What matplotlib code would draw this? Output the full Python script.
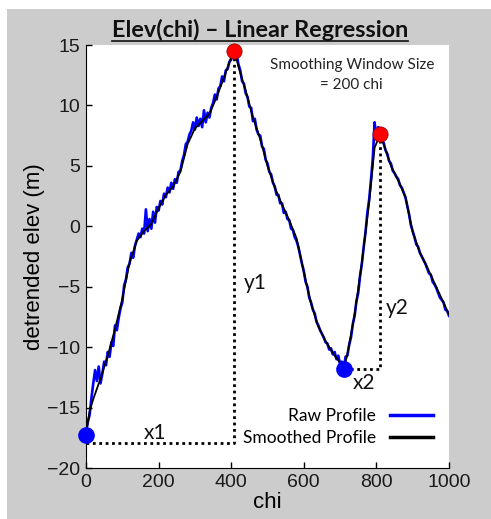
import matplotlib
matplotlib.use("Agg")
import matplotlib.pyplot as plt
from matplotlib.patches import Rectangle
from matplotlib.lines import Line2D
import numpy as np

# raw profile, read every 5 chi
raw_chi = np.arange(0, 1001, 5)
raw_elev = [
    -17.0, -16.2, -15.6, -14.2, -13.0, -11.9, -12.8, -11.6, -13.0, -12.2,
    -11.2, -11.5, -10.4, -10.8, -9.6, -9.9, -8.2, -8.6, -7.6, -6.8,
    -6.3, -4.9, -4.4, -3.4, -3.1, -2.2, -2.6, -1.6, -1.1, -0.6,
    -0.9, -0.2, -0.6, 1.4, -0.4, 0.6, -0.2, 1.2, 0.3, 1.6,
    1.3, 2.1, 1.8, 2.7, 2.4, 3.2, 2.8, 3.6, 3.1, 3.9,
    3.6, 4.5, 4.6, 5.4, 5.9, 6.8, 7.0, 7.6, 7.9, 8.6,
    8.0, 9.0, 8.3, 8.9, 8.2, 9.6, 8.6, 9.4, 9.0, 9.8,
    10.2, 10.9, 10.5, 11.4, 11.6, 12.4, 12.0, 12.9, 13.0, 13.6,
    13.8, 14.6, 14.3, 14.2, 13.4, 12.9, 12.0, 11.8, 11.0, 10.7,
    9.9, 9.8, 8.7, 8.9, 8.0, 7.6, 7.5, 6.6, 6.4, 5.5,
    5.2, 4.5, 4.3, 3.6, 3.3, 2.6, 2.6, 1.9, 1.9, 1.1,
    1.2, 0.6, 0.5, -0.2, -0.3, -0.9, -1.2, -1.7, -2.4, -3.1,
    -3.7, -4.6, -5.0, -5.9, -6.3, -6.9, -7.2, -7.9, -8.2, -8.6,
    -8.9, -9.2, -9.6, -9.7, -10.2, -10.1, -10.6, -10.4, -11.0, -10.7,
    -11.4, -11.2, -11.9, -10.8, -10.7, -9.8, -9.2, -8.1, -7.4, -6.2,
    -5.5, -4.1, -3.1, -1.7, -0.5, 1.1, 2.2, 3.8, 5.6, 8.6,
    7.4, 8.2, 7.5, 7.2, 6.9, 6.3, 6.0, 5.4, 5.2, 4.6,
    4.4, 4.1, 3.9, 3.4, 3.2, 2.8, 2.4, 1.7, 1.0, 0.1,
    -0.4, -0.9, -1.5, -1.7, -2.2, -2.5, -2.8, -3.1, -3.5, -3.9,
    -4.0, -4.6, -4.8, -5.1, -5.5, -5.9, -6.1, -6.3, -6.9, -7.0,
    -7.4,
]

# smoothed profile
smooth_chi = [0, 10, 20, 40, 60, 80, 100, 120, 140, 160, 180, 200, 220, 240,
              260, 280, 300, 320, 340, 360, 380, 400, 410, 420, 440, 460,
              480, 500, 520, 540, 560, 580, 600, 620, 640, 660, 680, 700,
              710, 720, 740, 760, 780, 795, 810, 820, 840, 860, 880, 900,
              920, 940, 960, 980, 1000]
smooth_elev = [-17.2, -15.3, -14.3, -12.6, -10.7, -8.5, -6.0, -3.0, -1.2,
               -0.4, 0.2, 1.5, 2.6, 3.3, 4.5, 6.8, 8.1, 8.7, 9.3, 10.7,
               12.3, 14.0, 14.5, 13.2, 11.2, 9.0, 7.2, 5.0, 3.2, 1.8, 0.5,
               -1.0, -3.8, -6.4, -8.3, -9.5, -10.5, -11.3, -11.8, -10.6,
               -7.3, -3.0, 2.0, 6.5, 7.6, 6.8, 5.0, 3.8, 2.4, -0.5, -2.2,
               -3.4, -4.7, -6.0, -7.3]

# picked extrema
peak_chi = [407, 810]
peak_elev = [14.5, 7.6]
trough_chi = [0, 710]
trough_elev = [-17.3, -11.8]

# dotted x/y construction lines
x1_chi = [0, 407, 407]
x1_elev = [-17.9, -17.9, 14.5]
x2_chi = [710, 810, 810]
x2_elev = [-11.8, -11.8, 7.6]

calibri = ["Lato", "DejaVu Sans"]
arial = "Liberation Sans"

fig = plt.figure(figsize=(4.91, 5.19), dpi=100, facecolor="white")
fig.patches.append(Rectangle((7 / 491, 0), 484 / 491, 510 / 519,
                             transform=fig.transFigure, facecolor="#cccccc",
                             edgecolor="none", zorder=-10))
ax = fig.add_axes([86 / 491, 1 - 468 / 519, 363 / 491, 423 / 519])
ax.set_facecolor("white")

ax.plot(raw_chi, raw_elev, color="#0000ff", lw=1.9, label="Raw Profile")
ax.plot(smooth_chi, smooth_elev, color="black", lw=1.3,
        label="Smoothed Profile")
ax.plot(x1_chi, x1_elev, color="black", lw=2, ls=(0, (1, 1.3)))
ax.plot(x2_chi, x2_elev, color="black", lw=2, ls=(0, (1, 1.3)))
ax.plot(peak_chi, peak_elev, "o", color="red", mec="#880000", mew=0.5,
        ms=11, clip_on=False, zorder=5)
ax.plot(trough_chi, trough_elev, "o", color="#0000ff", ms=11, clip_on=False,
        zorder=5)

ax.text(190, -17.1, "x1", fontsize=15, family=calibri, ha="center",
        va="center", color="#111111")
ax.text(465, -4.7, "y1", fontsize=15, family=calibri, ha="center",
        va="center", color="#111111")
ax.text(767, -13.0, "x2", fontsize=15, family=calibri, ha="center",
        va="center", color="#111111")
ax.text(858, -6.8, "y2", fontsize=15, family=calibri, ha="center",
        va="center", color="#111111")
ax.text(732, 12.5, "Smoothing Window Size\n= 200 chi", fontsize=11,
        family=calibri, ha="center", va="center", color="#222222",
        linespacing=1.5)

ax.set_xlim(0, 1000)
ax.set_ylim(-20, 15)
ax.set_xticks([0, 200, 400, 600, 800, 1000])
ax.set_yticks([-20, -15, -10, -5, 0, 5, 10, 15])
ax.spines["top"].set_visible(False)
ax.spines["right"].set_visible(False)
ax.tick_params(direction="in", length=4, width=1, labelsize=14, pad=4,
               labelcolor="#1a1a1a")
for lab in ax.get_xticklabels() + ax.get_yticklabels():
    lab.set_family(arial)
ax.set_xlabel("chi", fontsize=16, family=arial, labelpad=1)
ax.set_ylabel("detrended elev (m)", fontsize=16, family=arial, labelpad=2)

leg = ax.legend(loc="lower right", bbox_to_anchor=(1.0, 0.015),
                frameon=False, markerfirst=False, handlelength=2.5,
                labelspacing=0.35, handletextpad=0.8,
                prop={"family": calibri, "size": 12.5})
for h in leg.get_lines():
    h.set_linewidth(2.5)

title = fig.text(260 / 491, 1 - 37 / 519, "Elev(chi) \u2013 Linear Regression",
                 fontsize=16.8, fontweight="bold", family=calibri,
                 ha="center", va="baseline", color="#111111")
fig.canvas.draw()
bb = title.get_window_extent().transformed(fig.transFigure.inverted())
fig.add_artist(Line2D([bb.x0, bb.x1], [1 - 40.5 / 519, 1 - 40.5 / 519],
                      transform=fig.transFigure, color="#111111", lw=1.2))

fig.savefig("out.png", dpi=100, facecolor=fig.get_facecolor())
